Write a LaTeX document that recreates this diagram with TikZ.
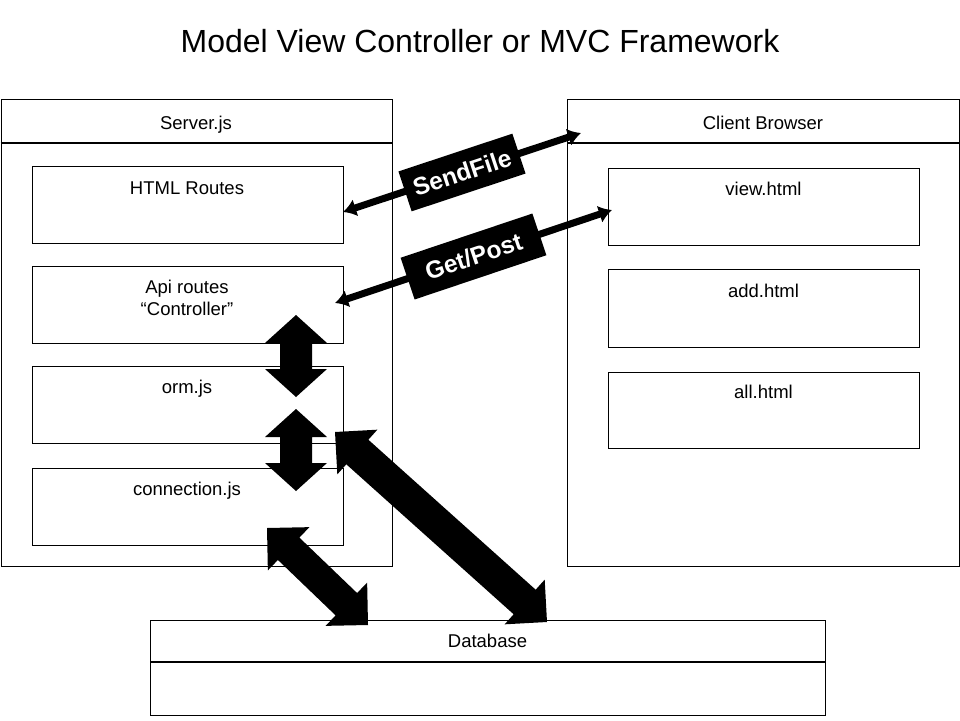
\documentclass[tikz,border=0pt]{standalone}
\usepackage{fontspec}
\setmainfont{Liberation Sans}
\usetikzlibrary{calc,arrows.meta}
% block double arrow: #1 tip A, #2 tip B, #3 head length, #4 head half width, #5 shaft half width
\newcommand{\blockarrow}[5]{%
  \path ($(#1)!#3!(#2)$) coordinate (bA) ($(#2)!#3!(#1)$) coordinate (bB);
  \fill[black] (#1) -- ($(bA)!#4!90:(#2)$) -- ($(bA)!#5!90:(#2)$)
     -- ($(bB)!#5!-90:(#1)$) -- ($(bB)!#4!-90:(#1)$) -- (#2)
     -- ($(bB)!#4!90:(#1)$) -- ($(bB)!#5!90:(#1)$)
     -- ($(bA)!#5!-90:(#2)$) -- ($(bA)!#4!-90:(#2)$) -- cycle;}
\begin{document}
\begin{tikzpicture}[x=1pt,y=-1pt,
  box/.style={draw, line width=1.2pt, rectangle, inner sep=0pt, anchor=north west},
  txt/.style={font=\fontsize{18.5}{22}\selectfont, anchor=base, inner sep=0pt},
  thinarrow/.style={line width=7pt, {Latex[length=13pt,width=18pt]}-{Latex[length=13pt,width=18pt]}},
  tag/.style={fill=black, text=white, font=\bfseries\fontsize{24.5}{28}\selectfont, inner sep=0pt, sloped}]
\useasboundingbox[fill=white] (0,0) rectangle (960,720);

\node[font=\fontsize{32}{38}\selectfont, anchor=base, inner sep=0pt] (title) at (480,52) {Model View Controller or MVC Framework};

% Server
\node[box, minimum width=391.4pt, minimum height=467pt] (server) at (0.6,99) {};
\draw[line width=1.2pt] ($(server.north west)+(0,44)$) -- ($(server.north east)+(0,44)$);
\node[txt] (servert) at (196,129) {Server.js};
\node[box, minimum width=311pt, minimum height=77pt] (html) at (32,166) {};
\node[txt] (htmlt) at (187,194) {HTML Routes};
\node[box, minimum width=311pt, minimum height=77pt] (api) at (32,266) {};
\node[txt] (apit1) at (187,293) {Api routes};
\node[txt] (apit2) at (187,315) {“Controller”};
\node[box, minimum width=311pt, minimum height=77pt] (orm) at (32,366) {};
\node[txt] (ormt) at (187,393) {orm.js};
\node[box, minimum width=311pt, minimum height=77pt] (conn) at (32,468) {};
\node[txt] (connt) at (187,495) {connection.js};

% Client
\node[box, minimum width=392.4pt, minimum height=467pt] (client) at (567,99) {};
\draw[line width=1.2pt] ($(client.north west)+(0,44)$) -- ($(client.north east)+(0,44)$);
\node[txt] (clientt) at (763,129) {Client Browser};
\node[box, minimum width=311pt, minimum height=77pt] (view) at (608,168) {};
\node[txt] (viewt) at (763.5,195) {view.html};
\node[box, minimum width=311pt, minimum height=78pt] (add) at (608,269) {};
\node[txt] (addt) at (763.5,297) {add.html};
\node[box, minimum width=311pt, minimum height=76pt] (all) at (608,372) {};
\node[txt] (allt) at (763.5,398) {all.html};

% Database
\node[box, minimum width=675pt, minimum height=95pt] (db) at (150,620) {};
\draw[line width=1.2pt] ($(db.north west)+(0,42)$) -- ($(db.north east)+(0,42)$);
\node[txt] (dbt) at (487.5,647) {Database};

% thin arrows with tags
\coordinate (sfA) at (343,212);
\coordinate (sfB) at (581,133);
\coordinate (gpA) at (335,303);
\coordinate (gpB) at (612,210);
\draw[thinarrow] (sfA) -- (sfB) node[tag, midway, minimum width=120pt, minimum height=42pt] (sf) {SendFile};
\draw[thinarrow] (gpA) -- (gpB) node[tag, midway, minimum width=139pt, minimum height=44pt] (gp) {Get/Post};

% block arrows
\coordinate (v1a) at (296,315);
\coordinate (v1b) at (296,397);
\coordinate (v2a) at (296,409);
\coordinate (v2b) at (296,491);
\coordinate (d1a) at (335,432);
\coordinate (d1b) at (547,622);
\coordinate (d2a) at (267,528);
\coordinate (d2b) at (368,625);
\blockarrow{v1a}{v1b}{28pt}{31pt}{16pt}
\blockarrow{v2a}{v2b}{28pt}{31pt}{16pt}
\blockarrow{d1a}{d1b}{30pt}{30pt}{16.5pt}
\blockarrow{d2a}{d2b}{30pt}{30pt}{15.5pt}
\end{tikzpicture}
\end{document}
